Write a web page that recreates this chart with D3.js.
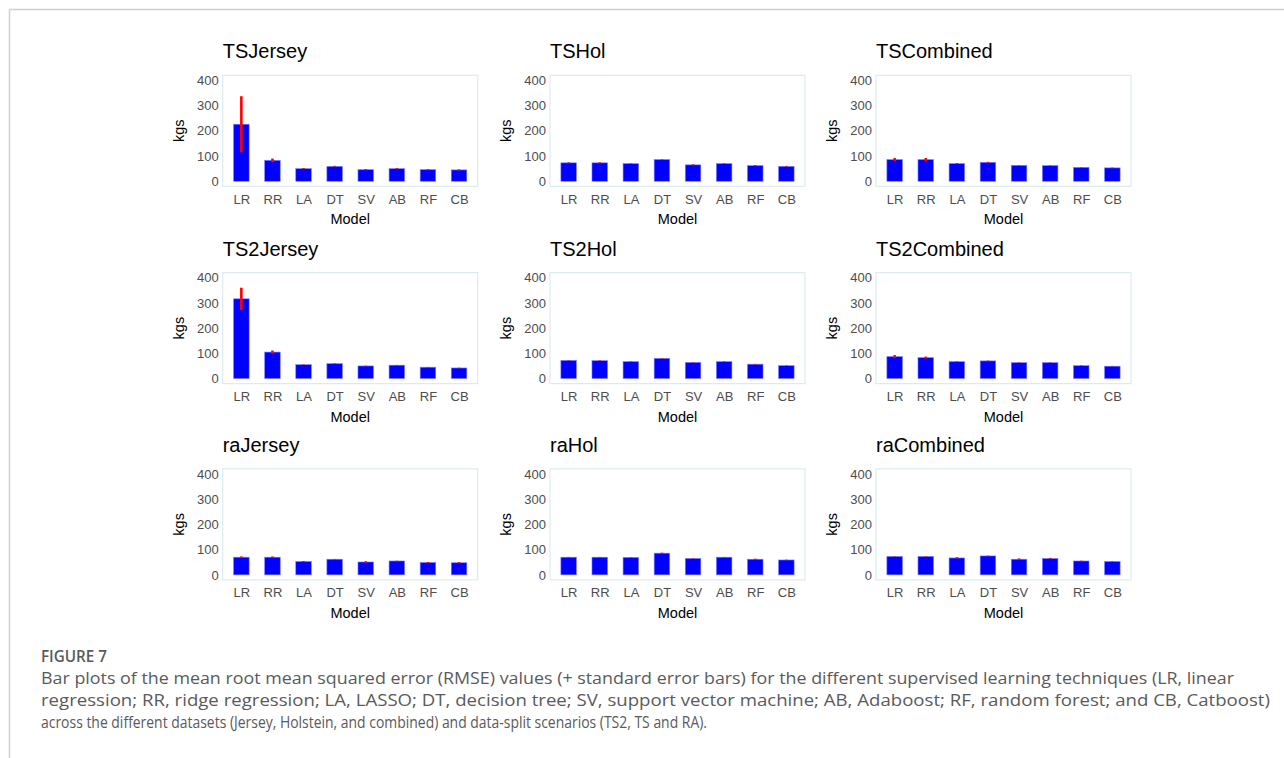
<!DOCTYPE html>
<html>
<head>
<meta charset="utf-8">
<script src="https://cdn.jsdelivr.net/npm/d3@7"></script>
<style>
  html, body { margin: 0; padding: 0; background: #ffffff; }
  svg { display: block; }
</style>
</head>
<body>
<svg id="fig" width="1284" height="758"></svg>
<script>
// Model abbreviations on every x axis
const models = ["LR", "RR", "LA", "DT", "SV", "AB", "RF", "CB"];
const yTicks = [0, 100, 200, 300, 400];

// Panel titles, row by row (split scenario) and column by column (dataset)
const panelTitles = [
  "TSJersey", "TSHol", "TSCombined",
  "TS2Jersey", "TS2Hol", "TS2Combined",
  "raJersey", "raHol", "raCombined"
];

// Mean RMSE (kgs) per model, one array per panel
const tsJerseyMean    = [226, 83, 50, 59, 46, 50, 46, 45];
const tsHolMean       = [73, 73, 70, 86, 65, 70, 62, 59];
const tsCombinedMean  = [86, 86, 70, 75, 63, 62, 55, 53];
const ts2JerseyMean   = [316, 105, 55, 59, 50, 53, 45, 42];
const ts2HolMean      = [72, 71, 67, 80, 64, 67, 57, 51];
const ts2CombinedMean = [87, 83, 67, 70, 63, 63, 51, 49];
const raJerseyMean    = [70, 70, 53, 62, 51, 55, 49, 48];
const raHolMean       = [70, 70, 69, 86, 65, 70, 62, 59];
const raCombinedMean  = [73, 73, 67, 75, 62, 65, 55, 53];

// Standard errors of the RMSE (kgs)
const tsJerseySE    = [111, 7, 2, 2, 2, 2, 2, 2];
const tsHolSE       = [2, 2, 1, 1, 2, 1, 2, 2];
const tsCombinedSE  = [6, 6, 2, 2, 1, 1, 1, 1];
const ts2JerseySE   = [44, 6, 1, 1, 1, 1, 1, 1];
const ts2HolSE      = [1, 1, 1, 1, 1, 1, 1, 1];
const ts2CombinedSE = [6, 4, 1, 1, 1, 1, 1, 1];
const raJerseySE    = [3, 3, 2, 1, 3, 1, 2, 2];
const raHolSE       = [1, 1, 1, 2, 1, 1, 2, 1];
const raCombinedSE  = [1, 1, 3, 1, 3, 2, 1, 1];

const panelMeans = [tsJerseyMean, tsHolMean, tsCombinedMean,
                    ts2JerseyMean, ts2HolMean, ts2CombinedMean,
                    raJerseyMean, raHolMean, raCombinedMean];
const panelSE = [tsJerseySE, tsHolSE, tsCombinedSE,
                 ts2JerseySE, ts2HolSE, ts2CombinedSE,
                 raJerseySE, raHolSE, raCombinedSE];

const captionHead = "FIGURE 7";
const captionLines = [
  "Bar plots of the mean root mean squared error (RMSE) values (+ standard error bars) for the different supervised learning techniques (LR, linear",
  "regression; RR, ridge regression; LA, LASSO; DT, decision tree; SV, support vector machine; AB, Adaboost; RF, random forest; and CB, Catboost)",
  "across the different datasets (Jersey, Holstein, and combined) and data-split scenarios (TS2, TS and RA)."
];

// ---------------------------------------------------------------
const svg = d3.select("#fig");
const chartFont = "'Liberation Sans', Arial, Helvetica, sans-serif";

// Page frame: a thin rule along the top and left edges
svg.append("line").attr("x1", 9.5).attr("x2", 1284).attr("y1", 9.5).attr("y2", 9.5)
  .attr("stroke", "#cfcfcf").attr("stroke-width", 1.5);
svg.append("line").attr("x1", 9.5).attr("x2", 9.5).attr("y1", 9.5).attr("y2", 758)
  .attr("stroke", "#cfcfcf").attr("stroke-width", 1.5);

const colLeft = [222.7, 550, 876];
const rowTop = [75.3, 272.6, 468.9];
const plotW = 255;
const plotH = 111;

panelTitles.forEach((title, i) => {
  const r = Math.floor(i / 3), c = i % 3;
  const left = colLeft[c], top = rowTop[r];
  const g = svg.append("g").attr("transform", `translate(${left},${top})`);

  const x = d3.scalePoint().domain(models).range([0, plotW]).padding(0.6);
  const y = d3.scaleLinear().domain([-20, 420]).range([plotH, 0]);
  const barW = x.step() * 0.5;

  // panel border
  g.append("rect").attr("x", 0).attr("y", 0).attr("width", plotW).attr("height", plotH)
    .attr("fill", "none").attr("stroke", "#dcecee").attr("stroke-width", 1.2);

  const means = panelMeans[i], se = panelSE[i];
  const rows = models.map((m, k) => ({ m, v: means[k], e: se[k] }));

  g.selectAll("rect.bar").data(rows).join("rect").attr("class", "bar")
    .attr("x", d => x(d.m) - barW / 2)
    .attr("width", barW)
    .attr("y", d => y(d.v))
    .attr("height", d => y(0) - y(d.v))
    .attr("fill", "#0000ff")
    .attr("stroke", "#7f7fff").attr("stroke-width", 0.6);

  g.selectAll("line.err").data(rows).join("line").attr("class", "err")
    .attr("x1", d => x(d.m)).attr("x2", d => x(d.m))
    .attr("y1", d => y(d.v - d.e)).attr("y2", d => y(d.v + d.e))
    .attr("stroke", "#ff0000").attr("stroke-width", 2.6);

  // y axis (labels only)
  const ya = g.append("g").call(d3.axisLeft(y).tickValues(yTicks).tickSize(0).tickPadding(4));
  ya.select(".domain").remove();
  ya.selectAll("text").attr("font-family", chartFont).attr("font-size", 13).attr("fill", "#4d4d4d");

  // x axis (labels only)
  const xa = g.append("g").attr("transform", `translate(0,${plotH})`)
    .call(d3.axisBottom(x).tickSize(0).tickPadding(8));
  xa.select(".domain").remove();
  xa.selectAll("text").attr("font-family", chartFont).attr("font-size", 13).attr("fill", "#4d4d4d");

  // axis titles
  g.append("text").attr("x", plotW / 2).attr("y", plotH + 38)
    .attr("text-anchor", "middle").attr("font-family", chartFont).attr("font-size", 14.5)
    .attr("fill", "#000").text("Model");
  g.append("text").attr("transform", `translate(${-39},${plotH / 2}) rotate(-90)`)
    .attr("text-anchor", "middle").attr("font-family", chartFont).attr("font-size", 14.5)
    .attr("fill", "#000").text("kgs");

  // panel title
  g.append("text").attr("x", 0).attr("y", -17)
    .attr("font-family", chartFont).attr("font-size", 20).attr("fill", "#000").text(title);
});

// Caption block
const capFont = "'Open Sans', 'Noto Sans', sans-serif";
const capColor = "#5a5a5a";
const capLeft = 41;
const lineWidths = [1193, 1229, 666];

svg.append("text").attr("x", capLeft).attr("y", 662)
  .attr("font-family", capFont).attr("font-size", 16).attr("font-weight", 600)
  .attr("fill", capColor).attr("textLength", 66).attr("lengthAdjust", "spacingAndGlyphs")
  .text(captionHead);

captionLines.forEach((t, k) => {
  svg.append("text").attr("x", capLeft).attr("y", 684 + k * 22)
    .attr("font-family", capFont).attr("font-size", 15.5).attr("fill", capColor)
    .attr("textLength", lineWidths[k]).attr("lengthAdjust", "spacingAndGlyphs")
    .text(t);
});
</script>
</body>
</html>
